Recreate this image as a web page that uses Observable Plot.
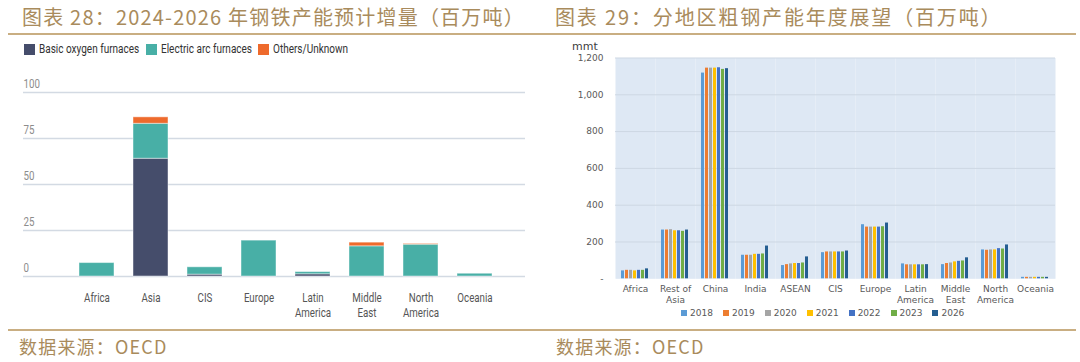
<!DOCTYPE html>
<html><head><meta charset="utf-8">
<script src="https://cdn.jsdelivr.net/npm/d3@7"></script>
<script src="https://cdn.jsdelivr.net/npm/@observablehq/plot@0.6"></script>
<style>
html,body{margin:0;padding:0;background:#fff;}
#root{position:relative;width:1080px;height:362px;overflow:hidden;font-family:"Noto Sans CJK SC",sans-serif;}
.title{position:absolute;top:3px;font-size:20px;color:#A98B5C;white-space:nowrap;line-height:28px;}
.rule{position:absolute;height:2px;background:#C9AE82;}
.source{position:absolute;top:333px;font-size:18px;color:#A98B5C;line-height:26px;white-space:nowrap;letter-spacing:1.2px;}
.legL{position:absolute;left:0;top:42px;width:540px;height:16px;font-family:Roboto,sans-serif;font-size:13px;color:#333;white-space:nowrap;}
.legL .sw{position:absolute;top:2px;width:11px;height:11px;}
.legL .tx{position:absolute;top:-1px;line-height:16px;transform:scaleX(0.77);transform-origin:left center;}
.legR{position:absolute;left:681px;top:308px;display:flex;align-items:center;font-family:"DejaVu Sans",sans-serif;font-size:9px;color:#595959;white-space:nowrap;}
.legR .sw{width:6px;height:6px;margin-right:3px;display:inline-block;}
.legR .it{display:flex;align-items:center;margin-right:10px;}
.mmt{position:absolute;left:572px;top:40px;font-family:"DejaVu Sans",sans-serif;font-size:11px;color:#404040;}
#plotL{position:absolute;left:0;top:60px;}
#plotR{position:absolute;left:540px;top:40px;}
</style></head>
<body><div id="root">
<div class="title" style="left:22px;letter-spacing:1.2px">图表 28：2024-2026 年钢铁产能预计增量（百万吨）</div>
<div class="title" style="left:555px;letter-spacing:1.85px">图表 29：分地区粗钢产能年度展望（百万吨）</div>
<div class="rule" style="left:8px;width:1068px;top:33px"></div>
<div class="rule" style="left:8px;width:1068px;top:329px"></div>
<div class="source" style="left:19px">数据来源：OECD</div>
<div class="source" style="left:556px">数据来源：OECD</div>
<div id="plotL"></div>
<div id="plotR"></div>
<div class="legL" id="legL"></div>
<div class="legR" id="legR"></div>
<div class="mmt">mmt</div>
</div>
<script>
// ---- Left chart data: 2024-2026 capacity additions (mmt)
const regionsL = ["Africa","Asia","CIS","Europe","Latin America","Middle East","North America","Oceania"];
const xLabelsL = ["Africa","Asia","CIS","Europe","Latin\nAmerica","Middle\nEast","North\nAmerica","Oceania"];
const typesL = ["Basic oxygen furnaces","Electric arc furnaces","Others/Unknown"];
const colorsL = ["#454D6B","#48AFA6","#EE6A2C"];
const bofL    = [0,   64,  1,   0,    1.2, 0,    0,    0];
const eafL    = [7.3, 19,  4,   19.5, 1.2, 16.4, 17.3, 1.5];
const othersL = [0,   3.5, 0,   0,    0,   2,    0.4,  0];
const yTicksL = [0,25,50,75,100];

// ---- Right chart data: crude steel capacity by region (mmt)
const regionsR = ["Africa","Rest of Asia","China","India","ASEAN","CIS","Europe","Latin America","Middle East","North America","Oceania"];
const xLabelsR = ["Africa","Rest of\nAsia","China","India","ASEAN","CIS","Europe","Latin\nAmerica","Middle\nEast","North\nAmerica","Oceania"];
const years = ["2018","2019","2020","2021","2022","2023","2026"];
const yearColors = ["#5B9BD5","#ED7D31","#A5A5A5","#FFC000","#4472C4","#70AD47","#255E91"];
const y2018 = [43, 265, 1118, 128, 72,  142, 294, 81, 77,  157, 8];
const y2019 = [46, 265, 1145, 128, 77,  146, 281, 76, 83,  155, 8];
const y2020 = [46, 267, 1145, 128, 81,  146, 281, 76, 86,  157, 8];
const y2021 = [43, 261, 1145, 133, 83,  146, 281, 76, 92,  157, 8];
const y2022 = [46, 261, 1147, 133, 83,  146, 281, 76, 95,  164, 8];
const y2023 = [46, 258, 1138, 135, 86,  146, 283, 76, 97,  162, 8];
const y2026 = [54, 265, 1142, 178, 119, 151, 303, 77, 114, 184, 8];
const yTicksR = [0,200,400,600,800,1000,1200];

// build tables
const seriesL = [bofL, eafL, othersL];
const dataL = [];
regionsL.forEach((r,i)=>typesL.forEach((t,j)=>dataL.push({region:r,type:t,value:seriesL[j][i]})));
const seriesR = [y2018,y2019,y2020,y2021,y2022,y2023,y2026];
const dataR = [];
regionsR.forEach((r,i)=>years.forEach((y,j)=>dataR.push({region:r,year:y,value:seriesR[j][i]})));
const labL = new Map(regionsL.map((r,i)=>[r,xLabelsL[i]]));
const labR = new Map(regionsR.map((r,i)=>[r,xLabelsR[i]]));

const plotL = Plot.plot({
  width: 540, height: 260,
  marginLeft: 23, marginRight: 15, marginTop: 32, marginBottom: 44,
  style: {fontFamily: "Roboto,sans-serif", fontSize: "12.5px", background: "transparent", overflow: "visible"},
  x: {domain: regionsL, range: [69, 503], paddingInner: 0.35, paddingOuter: 0.175, axis: null},
  y: {domain: [0, 100], axis: null},
  color: {domain: typesL, range: colorsL},
  marks: [
    Plot.ruleY(yTicksL, {stroke: "#D3DAE3", strokeWidth: 1.5}),
    Plot.text(yTicksL, {y: d => d, text: d => String(d), frameAnchor: "left", textAnchor: "start", dy: -9, fill: "#8C8C8C"}),
    Plot.barY(dataL, Plot.stackY({x: "region", y: "value", fill: "type", order: typesL, stroke: "#ffffff", strokeOpacity: 0.45, strokeWidth: 1})),
    Plot.text(regionsL, {x: d => d, text: d => labL.get(d), frameAnchor: "bottom", lineAnchor: "top", dy: 14, lineHeight: 1.25, fill: "#555"})
  ]
});
// condense the left chart's texts horizontally (narrow font look)
function condense(svg, k) {
  svg.querySelectorAll("text").forEach(t => {
    const tr = t.getAttribute("transform");
    if (tr) {
      t.setAttribute("transform", tr + ` scale(${k},1)`);
    } else {
      const x = +(t.getAttribute("x") || 0), y = +(t.getAttribute("y") || 0);
      t.removeAttribute("x"); t.removeAttribute("y");
      t.setAttribute("transform", `translate(${x},${y}) scale(${k},1)`);
    }
  });
}
condense(plotL, 0.78);
document.getElementById("plotL").appendChild(plotL);

const plotR = Plot.plot({
  width: 540, height: 290,
  marginLeft: 70, marginRight: 20, marginTop: 17.5, marginBottom: 51.7,
  style: {fontFamily: '"DejaVu Sans",sans-serif', fontSize: "9px", color: "#595959", background: "transparent", overflow: "visible"},
  fx: {domain: regionsR, padding: 0, axis: null},
  x: {domain: years, paddingInner: 0.15, paddingOuter: 0.7, axis: null},
  y: {domain: [0, 1200], ticks: yTicksR, tickFormat: d => d === 0 ? "-" : d3.format(",")(d), tickSize: 0, tickPadding: 12, label: null},
  color: {domain: years, range: yearColors},
  marks: [
    Plot.frame({fill: "#DEE8F4", stroke: null}),
    Plot.ruleY(yTicksR.filter(d => d > 0), {stroke: "#CDD7E3", strokeWidth: 1}),
    Plot.barY(dataR, {fx: "region", x: "year", y: "value", fill: "year"}),
    Plot.text(regionsR, {fx: d => d, text: d => labR.get(d), frameAnchor: "bottom", lineAnchor: "top", dy: 5, lineHeight: 1.22, fill: "#595959"})
  ]
});
document.getElementById("plotR").appendChild(plotR);

// legends
const legL = document.getElementById("legL");
const legSwX = [24, 146, 258];
typesL.forEach((t,i)=>{
  const sw = document.createElement("span"); sw.className = "sw";
  sw.style.left = legSwX[i] + "px"; sw.style.background = colorsL[i];
  const tx = document.createElement("span"); tx.className = "tx";
  tx.style.left = (legSwX[i] + 15) + "px"; tx.textContent = t;
  legL.appendChild(sw); legL.appendChild(tx);
});
const legR = document.getElementById("legR");
years.forEach((y,i)=>{
  const it = document.createElement("span"); it.className = "it";
  it.innerHTML = `<span class="sw" style="background:${yearColors[i]}"></span>${y}`;
  legR.appendChild(it);
});
</script>
</body></html>
